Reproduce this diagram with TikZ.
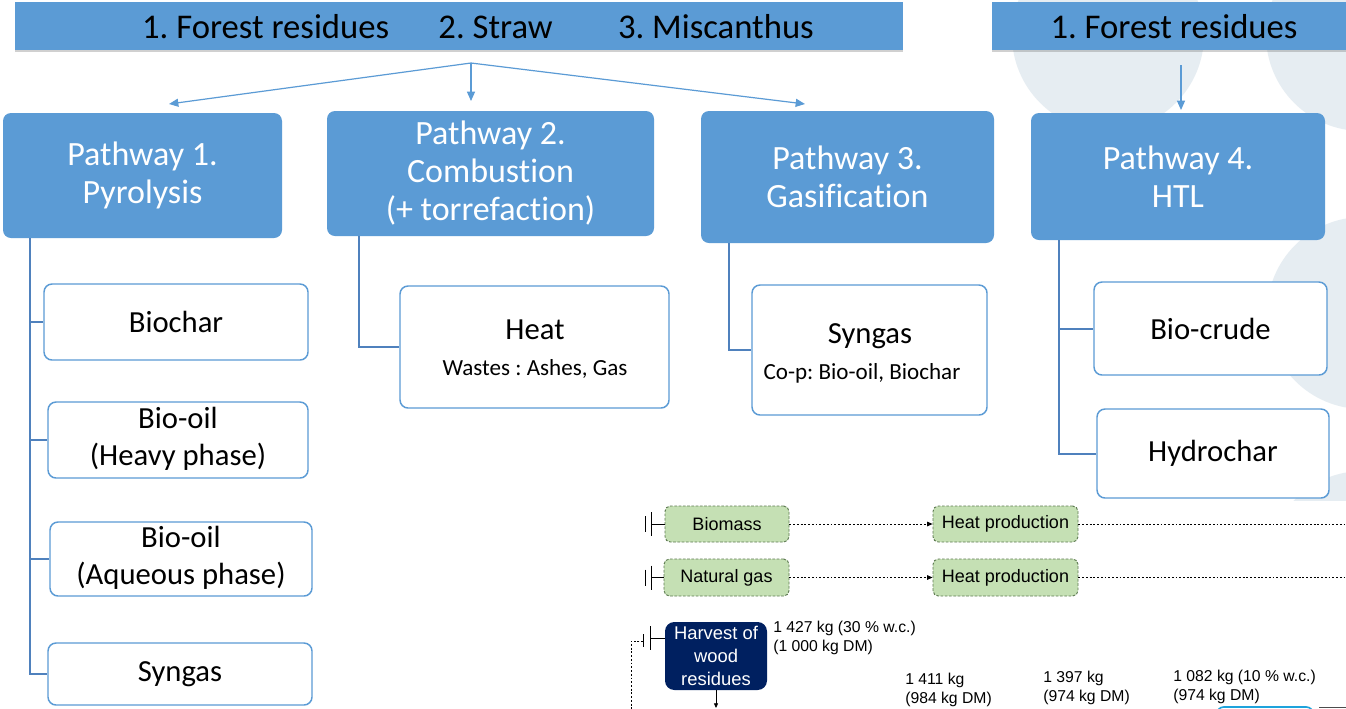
\documentclass[tikz,border=0pt]{standalone}
\usepackage{fontspec}
\setmainfont[Ligatures=NoCommon]{Carlito}
\newfontfamily\arialf{Liberation Sans}
\usetikzlibrary{arrows.meta,fit,shadows}
\frenchspacing

\definecolor{pblue}{HTML}{5B9BD5}
\definecolor{treeblue}{HTML}{4F81BD}
\definecolor{bgcirc}{HTML}{E6EDF2}
\definecolor{gfill}{HTML}{C5E0B4}
\definecolor{gline}{HTML}{5E7B52}
\definecolor{navy}{HTML}{002060}
\definecolor{cyanl}{HTML}{1EA3DC}

\tikzset{
  sz/.style 2 args={minimum width=#1*0.75pt, minimum height=#2*0.75pt},
  bar/.style={fill=pblue, inner sep=0pt,
    drop shadow={shadow xshift=0pt, shadow yshift=-1.5pt, opacity=.3, fill=black!60}},
  bartext/.style={inner sep=0pt, font=\fontsize{26}{30}\selectfont},
  pathbox/.style={fill=pblue, rounded corners=6pt, inner sep=0pt, text=white,
    align=center, font=\fontsize{25.5}{28.5}\selectfont},
  prod/.style={draw=pblue, line width=1.1pt, fill=white, rounded corners=6pt,
    inner sep=0pt, align=center, font=\fontsize{23}{27.75}\selectfont},
  prodtext/.style={inner sep=0pt, font=\fontsize{23}{27.75}\selectfont},
  subtext/.style={inner sep=0pt, font=\fontsize{17.3}{20}\selectfont},
  tree/.style={draw=treeblue, line width=1.5pt},
  feed/.style={draw=pblue, line width=0.9pt, -{Triangle[length=7pt,width=6pt]}},
  gbox/.style={draw=gline, fill=gfill, dash pattern=on 2pt off 1.2pt, line width=0.7pt,
    rounded corners=4pt, inner sep=0pt, font=\arialf\fontsize{13.5}{16}\selectfont},
  navybox/.style={fill=navy, rounded corners=7pt, inner sep=0pt, text=white,
    align=center, font=\arialf\fontsize{13.8}{17}\selectfont},
  flow/.style={draw=black, line width=0.6pt, dash pattern=on 1.4pt off 1.4pt},
  flowarrow/.style={flow, -{Triangle[length=4pt,width=3.4pt]}},
  mass/.style={inner sep=0pt, align=left, font=\arialf\fontsize{11.8}{14.25}\selectfont},
  bound/.style={draw=black, line width=0.6pt}
}

\begin{document}
\begin{tikzpicture}[x=0.75pt,y=-0.75pt]
\useasboundingbox (0,0) rectangle (1346,708);
\fill[white] (0,0) rectangle (1346,708);

% light decorative circles behind the HTL column
\begin{scope}
  \clip (0,0) rectangle (1346,500);
  \fill[bgcirc] (1108,35) circle (96);
  \fill[bgcirc] (1362,35) circle (96);
  \fill[bgcirc] (1363,313) circle (96);
  \fill[bgcirc] (1363,567) circle (96);
\end{scope}

% feedstock bars
\node[bar, fit={(15,2) (903,50)}] (bar1) {};
\node[bartext] (feed1) at (478,27) {1. Forest residues\hspace{37pt}2. Straw\hspace{49pt}3. Miscanthus};
\node[bar, fit={(992,2) (1352,50)}] (bar2) {};
\node[bartext] (feed2) at (1174,27) {1. Forest residues};

% pathways
\node[pathbox, sz={279}{125}] (p1) at (142.5,175.5) {Pathway 1.\\Pyrolysis};
\node[pathbox, sz={327}{125}] (p2) at (490.5,173.5) {Pathway 2.\\Combustion\\(+ torrefaction)};
\node[pathbox, sz={293}{132}] (p3) at (847.5,177) {Pathway 3.\\Gasification};
\node[pathbox, sz={294}{127}] (p4) at (1178,176.5) {Pathway 4.\\HTL};

% feed arrows
\coordinate (fork) at (471,63);
\coordinate (t1) at (169,104);
\coordinate (t2) at (471,101);
\coordinate (t3) at (805,104);
\draw[feed] (fork) -- (t1);
\draw[feed] (fork) -- (t2);
\draw[feed] (fork) -- (t3);
\coordinate (fork4) at (1181,65);
\coordinate (t4) at (1181,110);
\draw[feed] (fork4) -- (t4);

% products of pyrolysis
\node[prod, sz={264}{76}] (biochar) at (176,322) {Biochar};
\node[prod, sz={260}{76}] (heavy) at (178,440) {\raisebox{-2.6pt}{\begin{tabular}{@{}c@{}}Bio-oil\\(Heavy phase)\end{tabular}}};
\node[prod, sz={262}{72}] (aqueous) at (181,559) {\raisebox{-1.5pt}{\begin{tabular}{@{}c@{}}Bio-oil\\(Aqueous phase)\end{tabular}}};
\node[prod, sz={264}{62}] (syn1) at (180,674) {Syngas};
\draw[tree] (p1.south west) ++(27,0) |- (biochar.west);
\draw[tree] (p1.south west) ++(27,0) |- (heavy.west);
\draw[tree] (p1.south west) ++(27,0) |- (aqueous.west);
\draw[tree] (p1.south west) ++(27,0) |- (syn1.west);

% product of combustion
\node[prod, sz={269}{122}] (heat) at (534.5,347) {};
\node[prodtext] (heatT) at (535,330) {Heat};
\node[subtext] (heatW) at (535,369) {Wastes : Ashes, Gas};
\draw[tree] (p2.south west) ++(32,0) |- (heat.west);

% product of gasification
\node[prod, sz={235}{130}] (syn3) at (869.5,350) {};
\node[prodtext] (syn3T) at (870,336) {Syngas};
\node[subtext] (syn3W) at (862,373) {Co-p: Bio-oil, Biochar};
\draw[tree] (p3.south west) ++(28,0) |- (syn3.west);

% products of HTL
\node[prod, sz={233}{93}] (crude) at (1210.5,328.5) {Bio-crude};
\node[prod, sz={232}{89}] (hydro) at (1213,453.5) {Hydrochar};
\draw[tree] (p4.south west) ++(28,0) |- (crude.west);
\draw[tree] (p4.south west) ++(28,0) |- (hydro.west);

% heat production chains
\node[gbox, sz={124}{36}] (biomass) at (727,524) {Biomass};
\node[gbox, sz={145}{36}] (hp1) at (1005.5,524) {Heat production};
\node[gbox, sz={125}{37}] (ngas) at (726.5,577.5) {Natural gas};
\node[gbox, sz={145}{37}] (hp2) at (1005.5,577.5) {Heat production};
\draw[flowarrow] (biomass.east) -- (hp1.west);
\draw[flowarrow] (ngas.east) -- (hp2.west);
\coordinate (out1) at (1350,524);
\coordinate (out2) at (1350,577.5);
\draw[flow] (hp1.east) -- (out1);
\draw[flow] (hp2.east) -- (out2);

% system boundary marks
\coordinate (b1) at (651,524);
\draw[bound] (biomass.west) -- (b1);
\draw[bound] (651,512) -- (651,536);
\draw[bound] (645,516) -- (645,532);
\coordinate (b2) at (651,577.5);
\draw[bound] (ngas.west) -- (b2);
\draw[bound] (651,565.5) -- (651,589.5);
\draw[bound] (645,569.5) -- (645,585.5);

% wood residue harvest
\node[navybox, sz={102}{68}] (harvest) at (716,656) {Harvest of\\wood\\residues};
\coordinate (b3) at (650,638);
\draw[bound] (harvest.west |- b3) -- (b3);
\draw[bound] (650,626) -- (650,650);
\draw[bound] (643,634) -- (643,647);
\coordinate (d1) at (643,641);
\coordinate (d2) at (631,641);
\coordinate (d3) at (631,712);
\draw[flow] (d1) -- (d2) -- (d3);
\coordinate (hout) at (716,708);
\draw[draw=black, line width=0.6pt, -{Triangle[length=3.5pt,width=3pt]}] (harvest.south) -- (hout);

% mass flows
\node[mass, anchor=west] (m1) at (773,637.5) {1 427 kg (30 \% w.c.)\\(1 000 kg DM)};
\node[mass, anchor=west] (m2) at (905,689.5) {1 411 kg\\(984 kg DM)};
\node[mass, anchor=west] (m3) at (1043,687.5) {1 397 kg\\(974 kg DM)};
\node[mass, anchor=west] (m4) at (1173,686.5) {1 082 kg (10 \% w.c.)\\(974 kg DM)};

% next process boxes, cut at the lower edge
\draw[cyanl, line width=1.2pt, rounded corners=5pt] (1217,720) -- (1217,707) -- (1313,707) -- (1313,720);
\draw[black!70, line width=1pt] (1319,707.5) -- (1350,707.5);
\end{tikzpicture}
\end{document}
